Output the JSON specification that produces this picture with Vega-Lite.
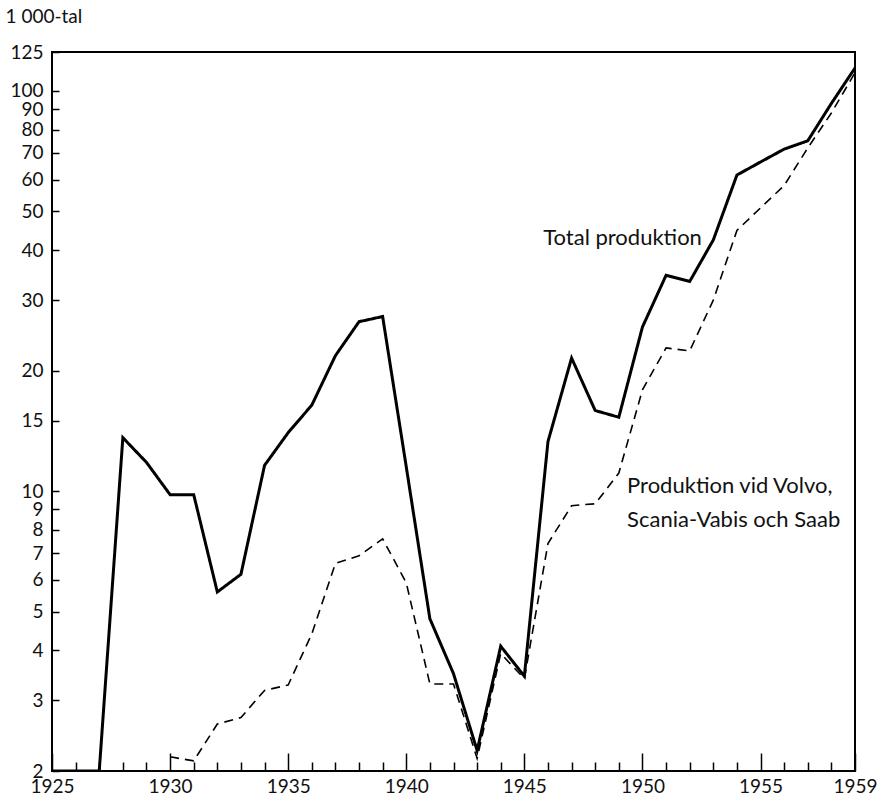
{
  "$schema": "https://vega.github.io/schema/vega-lite/v6.json",
  "width": 803,
  "height": 719,
  "autosize": "none",
  "padding": {"left": 52, "top": 52, "right": 25, "bottom": 29},
  "background": "white",
  "config": {
    "view": {"stroke": "black", "strokeWidth": 2},
    "font": "Lato",
    "axis": {"grid": true, "domain": false, "ticks": false, "zindex": 1, "labelOverlap": false, "gridColor": "black", "gridOpacity": 1, "gridWidth": 1.5, "labelColor": "#111", "labelFont": "Lato", "labelFontSize": 19, "titleFont": "Lato"}
  },
  "datasets": {
    "prod": [
      {"year": 1925, "series": "Total", "value": 2},
      {"year": 1926, "series": "Total", "value": 2},
      {"year": 1927, "series": "Total", "value": 2},
      {"year": 1928, "series": "Total", "value": 13.6},
      {"year": 1929, "series": "Total", "value": 11.8},
      {"year": 1930, "series": "Total", "value": 9.8},
      {"year": 1931, "series": "Total", "value": 9.8},
      {"year": 1932, "series": "Total", "value": 5.6},
      {"year": 1933, "series": "Total", "value": 6.2},
      {"year": 1934, "series": "Total", "value": 11.6},
      {"year": 1935, "series": "Total", "value": 14.0},
      {"year": 1936, "series": "Total", "value": 16.4},
      {"year": 1937, "series": "Total", "value": 21.8},
      {"year": 1938, "series": "Total", "value": 26.5},
      {"year": 1939, "series": "Total", "value": 27.3},
      {"year": 1940, "series": "Total", "value": 11.5},
      {"year": 1941, "series": "Total", "value": 4.8},
      {"year": 1942, "series": "Total", "value": 3.5},
      {"year": 1943, "series": "Total", "value": 2.25},
      {"year": 1944, "series": "Total", "value": 4.1},
      {"year": 1945, "series": "Total", "value": 3.45},
      {"year": 1946, "series": "Total", "value": 13.3},
      {"year": 1947, "series": "Total", "value": 21.5},
      {"year": 1948, "series": "Total", "value": 15.9},
      {"year": 1949, "series": "Total", "value": 15.3},
      {"year": 1950, "series": "Total", "value": 25.7},
      {"year": 1951, "series": "Total", "value": 34.6},
      {"year": 1952, "series": "Total", "value": 33.4},
      {"year": 1953, "series": "Total", "value": 42.4},
      {"year": 1954, "series": "Total", "value": 61.6},
      {"year": 1955, "series": "Total", "value": 66.4},
      {"year": 1956, "series": "Total", "value": 71.5},
      {"year": 1957, "series": "Total", "value": 75},
      {"year": 1958, "series": "Total", "value": 93},
      {"year": 1959, "series": "Total", "value": 114},
      {"year": 1930, "series": "VSS", "value": 2.17},
      {"year": 1931, "series": "VSS", "value": 2.12},
      {"year": 1932, "series": "VSS", "value": 2.62},
      {"year": 1933, "series": "VSS", "value": 2.72},
      {"year": 1934, "series": "VSS", "value": 3.18},
      {"year": 1935, "series": "VSS", "value": 3.28},
      {"year": 1936, "series": "VSS", "value": 4.4},
      {"year": 1937, "series": "VSS", "value": 6.6},
      {"year": 1938, "series": "VSS", "value": 6.9},
      {"year": 1939, "series": "VSS", "value": 7.6},
      {"year": 1940, "series": "VSS", "value": 5.9},
      {"year": 1941, "series": "VSS", "value": 3.3},
      {"year": 1942, "series": "VSS", "value": 3.3},
      {"year": 1943, "series": "VSS", "value": 2.15},
      {"year": 1944, "series": "VSS", "value": 3.93},
      {"year": 1945, "series": "VSS", "value": 3.4},
      {"year": 1946, "series": "VSS", "value": 7.4},
      {"year": 1947, "series": "VSS", "value": 9.2},
      {"year": 1948, "series": "VSS", "value": 9.3},
      {"year": 1949, "series": "VSS", "value": 11.1},
      {"year": 1950, "series": "VSS", "value": 17.9},
      {"year": 1951, "series": "VSS", "value": 22.8},
      {"year": 1952, "series": "VSS", "value": 22.4},
      {"year": 1953, "series": "VSS", "value": 30},
      {"year": 1954, "series": "VSS", "value": 44.8},
      {"year": 1955, "series": "VSS", "value": 51},
      {"year": 1956, "series": "VSS", "value": 58},
      {"year": 1957, "series": "VSS", "value": 72},
      {"year": 1958, "series": "VSS", "value": 88},
      {"year": 1959, "series": "VSS", "value": 111}
    ],
    "labels": [
      {"year": 1945.8, "value": 43, "label": "Total produktion"},
      {"year": 1949.35, "value": 10.3, "label": "Produktion vid Volvo,"},
      {"year": 1949.35, "value": 8.45, "label": "Scania-Vabis och Saab"}
    ]
  },
  "resolve": {"axis": {"x": "independent"}},
  "layer": [
    {
      "data": {"name": "prod"},
      "mark": {"type": "line", "color": "black", "strokeJoin": "miter", "clip": true},
      "encoding": {
        "x": {
          "field": "year", "type": "quantitative",
          "scale": {"domain": [1925, 1959], "nice": false, "zero": false},
          "axis": {
            "orient": "bottom",
            "title": null,
            "grid": true,
            "values": [1925, 1930, 1935, 1940, 1945, 1950, 1955, 1959],
            "format": "d",
            "labelFlush": false,
            "labelBound": false,
            "gridDash": [18, 2000],
            "gridDashOffset": 1317,
            "labelPadding": 6
          }
        },
        "y": {
          "field": "value", "type": "quantitative",
          "scale": {"type": "log", "domain": [2, 125], "nice": false},
          "axis": {
            "grid": true,
            "values": [2,3,4,5,6,7,8,9,10,15,20,30,40,50,60,70,80,90,100,125],
            "format": "d",
            "gridDash": [7, 2000],
            "labelPadding": 9,
            "title": "1 000-tal",
            "titleAngle": 0,
            "titleAlign": "left",
            "titleBaseline": "alphabetic",
            "titleX": -47,
            "titleY": -30,
            "titleFontSize": 19,
            "titleFontWeight": "normal",
            "titleColor": "#111"
          }
        },
        "detail": {"field": "series"},
        "strokeDash": {"field": "series", "type": "nominal", "scale": {"domain": ["Total", "VSS"], "range": [[1, 0], [9, 6]]}, "legend": null},
        "strokeWidth": {"field": "series", "type": "nominal", "scale": {"domain": ["Total", "VSS"], "range": [3, 1.6]}, "legend": null}
      }
    },
    {
      "data": {"name": "labels"},
      "mark": {"type": "text", "align": "left", "baseline": "middle", "fontSize": 22, "font": "Lato", "color": "#111"},
      "encoding": {
        "x": {
          "field": "year", "type": "quantitative",
          "axis": {
            "orient": "bottom",
            "title": null,
            "grid": true,
            "labels": false,
            "values": [1926,1927,1928,1929,1931,1932,1933,1934,1936,1937,1938,1939,1941,1942,1943,1944,1946,1947,1948,1949,1951,1952,1953,1954,1956,1957,1958],
            "gridDash": [9, 2000],
            "gridDashOffset": 1299
          }
        },
        "y": {"field": "value", "type": "quantitative"},
        "text": {"field": "label"}
      }
    }
  ]
}
